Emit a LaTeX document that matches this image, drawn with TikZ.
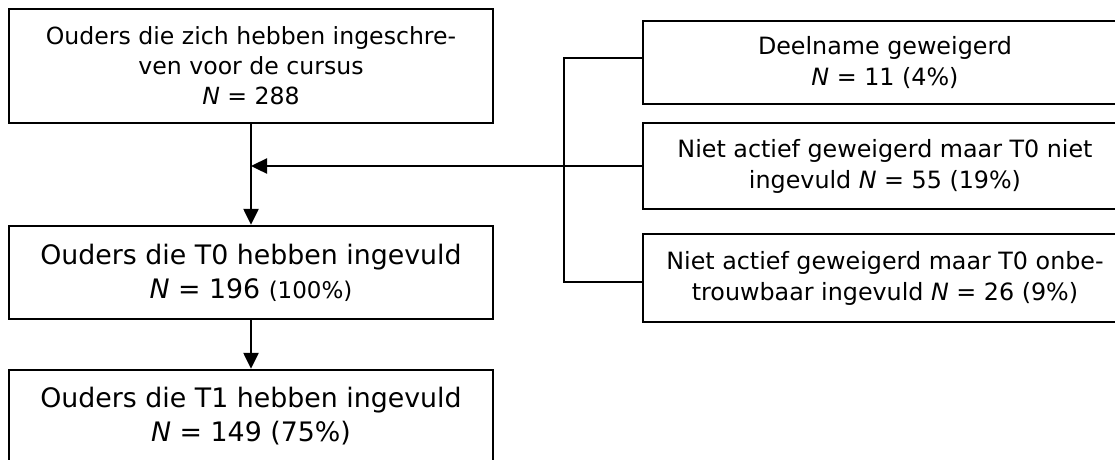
\documentclass[tikz,border=0pt]{standalone}
\usepackage{fontspec}
\setmainfont{DejaVu Sans}
\usetikzlibrary{arrows.meta}

\tikzset{
  box/.style={draw, line width=2.4pt, minimum width=484pt, align=center,
    inner sep=0pt, font=\fontsize{23.8}{31}\selectfont},
  bigbox/.style={box, font=\fontsize{26.8}{34}\selectfont},
  pijl/.style={-{Triangle[length=16pt,width=15pt]}, line width=2.4pt},
  lijn/.style={line width=2.4pt}
}

\begin{document}
\begin{tikzpicture}[x=1pt,y=-1pt]
\useasboundingbox (0,0) rectangle (1115,459);
\clip (0,0) rectangle (1115,459);

% linker kolom
\node [box, minimum height=114pt, font=\fontsize{23.6}{30}\selectfont] (inschr) at (251,66)
  {Ouders die zich hebben ingeschre-\\ven voor de cursus\\\textit{N} = 288};
\node [bigbox, minimum height=93pt] (tnul) at (251,272.5)
  {Ouders die T0 hebben ingevuld\\\textit{N} = 196 {\fontsize{23}{34}\selectfont(100\%)}};
\node [bigbox, minimum height=93pt] (teen) at (251,416.5)
  {Ouders die T1 hebben ingevuld\\\textit{N} = 149 (75\%)};

% rechter kolom (uitval)
\node [box, minimum height=83pt] (deeln) at (885,62.5)
  {Deelname geweigerd\\\textit{N} = 11 (4\%)};
\node [box, minimum height=86pt] (nietin) at (885,166)
  {Niet actief geweigerd maar T0 niet\\ingevuld \textit{N} = 55 (19\%)};
\node [box, minimum height=88pt] (onbetr) at (885,278)
  {Niet actief geweigerd maar T0 onbe-\\trouwbaar ingevuld \textit{N} = 26 (9\%)};

% verbindingen
\coordinate (splits) at (564,166);
\coordinate (inval) at (inschr.south |- splits);
\coordinate (boven) at ([yshift=4.5pt]deeln.west);
\coordinate (onder) at ([yshift=-4pt]onbetr.west);
\draw [lijn] (boven) -| (splits) |- (onder);
\draw [lijn] (nietin.west) -- (splits);
\draw [pijl] (splits) -- (inval);
\draw [pijl] (inschr.south) -- (tnul.north);
\draw [pijl] (tnul.south) -- (teen.north);

\end{tikzpicture}
\end{document}
